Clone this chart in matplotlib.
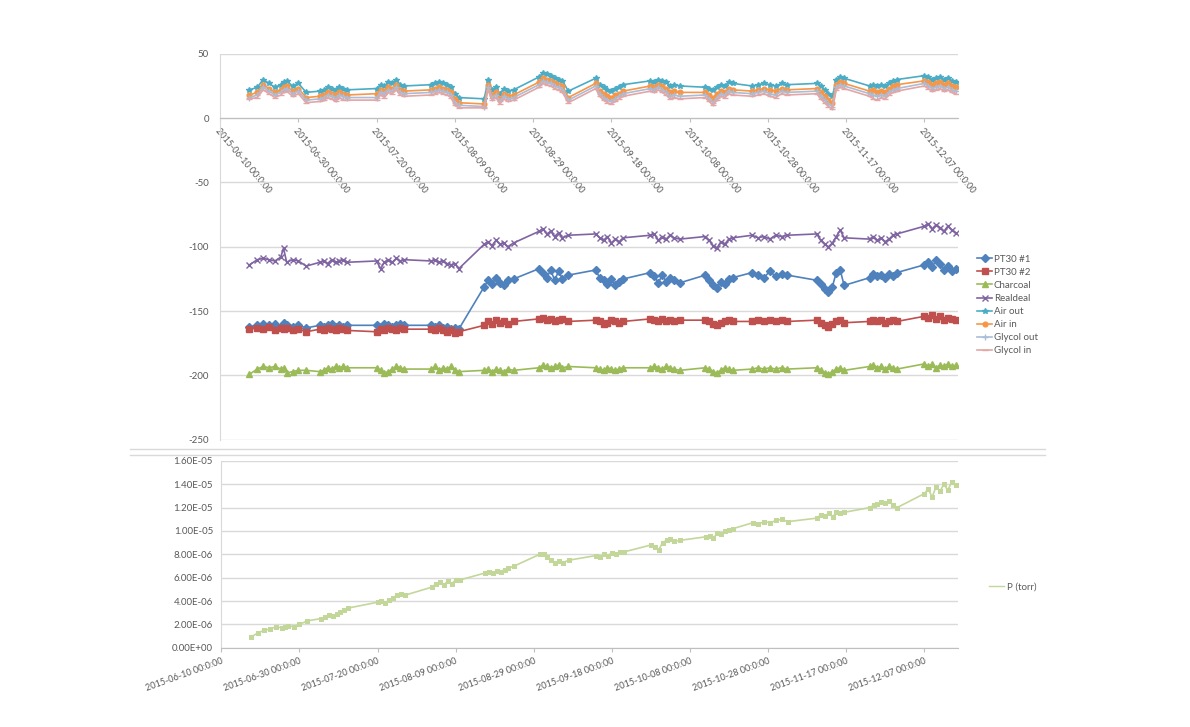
import matplotlib
matplotlib.use("Agg")
import matplotlib.pyplot as plt
from matplotlib.lines import Line2D

# sample times, days after 2015-06-10 (clusters of readings with gaps between)
DAYS = [
    7.5, 9.5, 11, 12.5, 14, 15.5, 16.2, 17, 18.5, 20,
    22,
    25.5, 26.5, 27.5, 28.5, 29.5, 30.5, 31.5, 32.5,
    40, 41, 42, 43, 44, 45, 46, 47,
    54, 55, 56, 57, 58, 59, 60, 61,
    67.5, 68.5, 69.5, 70.5, 71.5, 72.5, 73.5, 75,
    81.5, 82.5, 83.5, 84.5, 85.5, 86.5, 87.5, 89,
    96, 97, 98, 99, 100, 101, 102, 103,
    110, 111, 112, 113, 114, 115, 116, 117.5,
    124, 125, 126, 127, 128, 129, 130, 131,
    136, 137.5, 139, 140.5, 142, 143.5, 145,
    152.5, 153.5, 154.5, 155.5, 156.5, 157.5, 158.5, 159.5,
    166, 167, 168, 169, 170, 171, 172, 173,
    180, 181, 182, 183, 184, 185, 186, 187, 188,
]

PT30_1 = [
    -162, -161, -160, -161, -160, -162, -159, -161, -162, -161,
    -163,
    -161, -162, -161, -160, -162, -161, -162, -161,
    -161, -162, -160, -161, -162, -161, -160, -161,
    -161, -162, -161, -163, -162, -164, -163, -164,
    -131, -126, -129, -124, -128, -130, -126, -125,
    -117, -120, -124, -118, -126, -119, -125, -122,
    -118, -124, -126, -129, -125, -130, -127, -125,
    -120, -123, -128, -122, -127, -124, -126, -128,
    -122, -126, -130, -132, -127, -129, -125, -124,
    -120, -122, -124, -119, -123, -121, -122,
    -126, -129, -133, -135, -131, -120, -118, -130,
    -124, -121, -123, -122, -124, -121, -123, -120,
    -114, -112, -116, -110, -113, -118, -115, -119, -117,
]
PT30_2 = [
    -164, -163, -164, -162, -165, -163, -164, -163, -165, -164,
    -166,
    -164, -165, -163, -164, -165, -163, -164, -165,
    -166, -164, -165, -163, -164, -165, -163, -164,
    -164, -165, -163, -165, -166, -165, -167, -166,
    -161, -158, -160, -157, -159, -158, -160, -158,
    -156, -155, -157, -156, -158, -157, -156, -158,
    -157, -158, -160, -159, -157, -158, -159, -158,
    -156, -157, -158, -156, -158, -157, -158, -157,
    -157, -158, -160, -161, -159, -158, -157, -158,
    -158, -157, -158, -157, -158, -157, -158,
    -157, -159, -161, -162, -160, -158, -157, -159,
    -158, -157, -158, -157, -159, -158, -157, -158,
    -154, -155, -153, -156, -154, -157, -155, -156, -157,
]
CHARCOAL = [
    -199, -195, -193, -194, -193, -195, -194, -198, -197, -196,
    -196,
    -197, -196, -194, -195, -193, -194, -193, -194,
    -194, -196, -198, -197, -195, -193, -194, -195,
    -195, -193, -196, -194, -195, -193, -196, -197,
    -196, -195, -197, -195, -196, -197, -195, -196,
    -194, -192, -193, -194, -193, -192, -194, -193,
    -194, -195, -196, -194, -195, -196, -195, -194,
    -194, -193, -194, -195, -193, -194, -195, -196,
    -194, -195, -197, -198, -196, -194, -195, -196,
    -195, -194, -195, -194, -195, -194, -195,
    -194, -196, -198, -199, -197, -195, -194, -196,
    -193, -192, -194, -193, -195, -193, -194, -195,
    -191, -193, -191, -194, -192, -193, -191, -193, -192,
]
REALDEAL = [
    -114, -110, -109, -110, -111, -108, -101, -112, -110, -111,
    -115,
    -112, -111, -113, -110, -112, -111, -110, -112,
    -111, -117, -112, -110, -112, -109, -111, -110,
    -111, -110, -112, -111, -113, -114, -113, -117,
    -98, -96, -99, -95, -98, -97, -100, -97,
    -88, -86, -90, -88, -92, -89, -93, -91,
    -90, -93, -95, -92, -97, -94, -96, -93,
    -91, -90, -95, -92, -94, -91, -93, -94,
    -92, -95, -99, -101, -96, -98, -94, -93,
    -91, -93, -92, -94, -91, -92, -91,
    -90, -95, -98, -100, -97, -92, -87, -93,
    -94, -92, -95, -93, -96, -94, -91, -90,
    -84, -82, -86, -83, -85, -88, -84, -87, -89,
]
AIR_OUT = [
    22, 24, 30, 27, 24, 26, 28, 29, 25, 27,
    20,
    21, 22, 24, 23, 22, 24, 23, 22,
    23, 26, 25, 28, 27, 30, 26, 25,
    26, 27, 28, 27, 26, 24, 19, 16,
    15, 30, 22, 24, 19, 23, 21, 22,
    32, 35, 34, 33, 31, 30, 29, 21,
    31, 26, 24, 22, 21, 23, 24, 26,
    29, 28, 30, 29, 28, 25, 26, 25,
    24, 23, 22, 24, 26, 25, 28, 27,
    25, 26, 27, 26, 25, 27, 26,
    27, 25, 22, 19, 17, 30, 32, 31,
    25, 26, 25, 26, 25, 27, 29, 30,
    33, 32, 30, 31, 32, 30, 31, 29, 28,
]
AIR_IN = [
    18, 20, 26, 23, 20, 22, 24, 25, 21, 23,
    16,
    17, 18, 20, 19, 18, 20, 19, 18,
    19, 22, 21, 24, 23, 26, 22, 21,
    22, 23, 24, 23, 22, 20, 15, 12,
    11, 26, 18, 20, 15, 19, 17, 18,
    28, 31, 30, 29, 27, 26, 25, 16,
    27, 21, 19, 17, 16, 18, 19, 21,
    25, 24, 26, 25, 23, 20, 21, 20,
    20, 18, 16, 19, 21, 20, 23, 22,
    21, 22, 23, 22, 21, 23, 22,
    23, 20, 17, 14, 12, 26, 28, 27,
    21, 22, 20, 21, 20, 23, 25, 26,
    29, 28, 26, 27, 28, 26, 27, 25, 24,
]
GLYCOL_OUT = [
    16, 18, 24, 21, 18, 20, 22, 23, 19, 21,
    14,
    15, 16, 18, 17, 15, 18, 17, 16,
    16, 20, 19, 22, 21, 24, 20, 19,
    20, 21, 22, 21, 20, 18, 12, 10,
    9, 24, 16, 18, 13, 17, 15, 16,
    26, 29, 28, 27, 25, 24, 22, 14,
    25, 19, 16, 14, 13, 15, 17, 19,
    23, 22, 24, 22, 20, 17, 18, 17,
    18, 15, 12, 16, 19, 18, 21, 20,
    19, 20, 21, 19, 18, 21, 20,
    21, 17, 14, 11, 9, 24, 26, 25,
    19, 18, 17, 18, 17, 20, 22, 23,
    27, 25, 23, 24, 25, 23, 24, 22, 21,
]
GLYCOL_IN = [
    15, 16, 22, 19, 16, 18, 20, 21, 17, 19,
    12,
    13, 14, 16, 15, 13, 16, 14, 14,
    14, 18, 16, 20, 19, 22, 18, 17,
    18, 19, 20, 19, 18, 16, 10, 8,
    8, 22, 14, 16, 11, 15, 13, 14,
    24, 27, 26, 25, 23, 22, 20, 12,
    23, 17, 14, 12, 11, 13, 15, 17,
    21, 20, 22, 20, 18, 15, 16, 15,
    16, 13, 10, 14, 17, 16, 19, 18,
    17, 18, 19, 17, 16, 19, 18,
    19, 15, 12, 9, 7, 22, 24, 23,
    17, 15, 14, 16, 15, 18, 20, 21,
    25, 23, 21, 22, 23, 21, 22, 20, 19,
]
# pressure, in units of 1e-6 torr
P_TORR_E6 = [
    0.9, 1.3, 1.5, 1.6, 1.8, 1.7, 1.8, 1.9, 1.8, 2.0,
    2.3,
    2.5, 2.6, 2.8, 2.7, 2.9, 3.1, 3.2, 3.4,
    3.9, 4.0, 3.8, 4.1, 4.3, 4.5, 4.6, 4.5,
    5.2, 5.5, 5.6, 5.4, 5.7, 5.5, 5.8, 5.8,
    6.4, 6.5, 6.4, 6.6, 6.5, 6.7, 6.8, 7.0,
    8.0, 8.0, 7.8, 7.5, 7.3, 7.4, 7.3, 7.5,
    7.9, 7.8, 8.0, 7.9, 8.1, 8.0, 8.2, 8.2,
    8.8, 8.6, 8.4, 9.0, 9.2, 9.3, 9.1, 9.2,
    9.5, 9.6, 9.4, 9.8, 9.7, 10.0, 10.1, 10.2,
    10.7, 10.6, 10.8, 10.7, 10.9, 11.0, 10.8,
    11.1, 11.4, 11.3, 11.5, 11.2, 11.6, 11.5, 11.6,
    12.0, 12.2, 12.3, 12.5, 12.4, 12.6, 12.2, 12.0,
    13.2, 13.6, 12.9, 13.8, 13.4, 14.0, 13.5, 14.2, 13.9,
]

TICK_DAYS = [0, 20, 40, 60, 80, 100, 120, 140, 160, 180]
TICK_LABELS = [
    "2015-06-10 00:0:00", "2015-06-30 00:0:00", "2015-07-20 00:0:00",
    "2015-08-09 00:0:00", "2015-08-29 00:0:00", "2015-09-18 00:0:00",
    "2015-10-08 00:0:00", "2015-10-28 00:0:00", "2015-11-17 00:0:00",
    "2015-12-07 00:0:00",
]
TEMP_TICKS = [50, 0, -50, -100, -150, -200, -250]
P_TICKS_E6 = [0, 2, 4, 6, 8, 10, 12, 14, 16]

SERIES = [
    # label, values, color, marker, marker size
    ("PT30 #1", PT30_1, "#4F81BD", "D", 3.8),
    ("PT30 #2", PT30_2, "#C0504D", "s", 3.8),
    ("Charcoal", CHARCOAL, "#9BBB59", "^", 4.0),
    ("Realdeal", REALDEAL, "#8064A2", "x", 4.2),
    ("Air out", AIR_OUT, "#4BACC6", "*", 4.4),
    ("Air in", AIR_IN, "#F79646", "o", 3.4),
    ("Glycol out", GLYCOL_OUT, "#A9BCD8", "+", 4.2),
    ("Glycol in", GLYCOL_IN, "#E3A6A4", "_", 4.2),
]

TXT = "#595959"
GRID = "#D9D9D9"
XMAX = 188.6

plt.rcParams.update({
    "font.family": ["Lato", "DejaVu Sans"],
    "axes.unicode_minus": False,
})

fig = plt.figure(figsize=(11.9, 7.27), dpi=100)

# --- top panel: temperatures ---
ax1 = fig.add_axes([0.185, 0.395, 0.620, 0.531])
for label, vals, color, marker, ms in SERIES:
    ax1.plot(DAYS, vals, color=color, lw=1.2, marker=marker, ms=ms,
             mew=1.0, label=label, zorder=3)
ax1.set_xlim(0, XMAX)
ax1.set_ylim(-250, 50)
ax1.set_yticks(TEMP_TICKS)
ax1.set_yticklabels([str(t) for t in TEMP_TICKS], fontsize=7, color=TXT)
ax1.yaxis.grid(True, color=GRID, lw=1.0)
ax1.set_axisbelow(True)
ax1.spines["bottom"].set_position(("data", 0))
ax1.spines["bottom"].set_color("#BFBFBF")
ax1.spines["left"].set_color(GRID)
ax1.spines["top"].set_visible(False)
ax1.spines["right"].set_visible(False)
ax1.tick_params(axis="y", length=0, pad=8)
ax1.tick_params(axis="x", length=3, color="#BFBFBF", pad=3)
ax1.set_xticks(TICK_DAYS)
ax1.set_xticklabels(TICK_LABELS, rotation=-50, ha="left", va="top",
                    rotation_mode="anchor", fontsize=6.5, color=TXT)
ax1.legend(loc="upper left", bbox_to_anchor=(0.818, 0.655),
           bbox_transform=fig.transFigure, frameon=False, fontsize=7,
           labelcolor=TXT, handlelength=1.5, handletextpad=0.2,
           labelspacing=0.42, borderaxespad=0)

# --- bottom panel: pressure ---
ax2 = fig.add_axes([0.186, 0.109, 0.619, 0.257])
p_vals = [v * 1e-6 for v in P_TORR_E6]
ax2.plot(DAYS, p_vals, color="#C4D79B", lw=1.2, marker="s", ms=3.6,
         mew=0, zorder=3)
ax2.set_xlim(0, XMAX)
ax2.set_ylim(0, 1.6e-5)
ax2.set_yticks([t * 1e-6 for t in P_TICKS_E6])
ax2.set_yticklabels([f"{t * 1e-6:.2E}" for t in P_TICKS_E6], fontsize=7,
                    color=TXT)
ax2.yaxis.grid(True, color=GRID, lw=1.0)
ax2.set_axisbelow(True)
ax2.spines["bottom"].set_color("#BFBFBF")
ax2.spines["left"].set_color(GRID)
ax2.spines["top"].set_visible(False)
ax2.spines["right"].set_visible(False)
ax2.tick_params(axis="y", length=0, pad=6)
ax2.tick_params(axis="x", length=3, color="#BFBFBF", pad=3)
ax2.set_xticks(TICK_DAYS)
ax2.set_xticklabels(TICK_LABELS, rotation=20, ha="right", va="top",
                    rotation_mode="anchor", fontsize=6.5, color=TXT)
ax2.legend(handles=[Line2D([], [], color="#C4D79B", lw=1.0,
                           label="P (torr)")],
           loc="center left", bbox_to_anchor=(0.828, 0.193),
           bbox_transform=fig.transFigure, frameon=False, fontsize=7,
           labelcolor=TXT, handlelength=1.5, handletextpad=0.3,
           borderaxespad=0)

# chart-box edges between the two panels
for ypx in (449, 455):
    fig.add_artist(Line2D([130 / 1190, 1045 / 1190], [1 - ypx / 727] * 2,
                          transform=fig.transFigure, color=GRID, lw=1.0))

fig.savefig("out.png", dpi=100)
